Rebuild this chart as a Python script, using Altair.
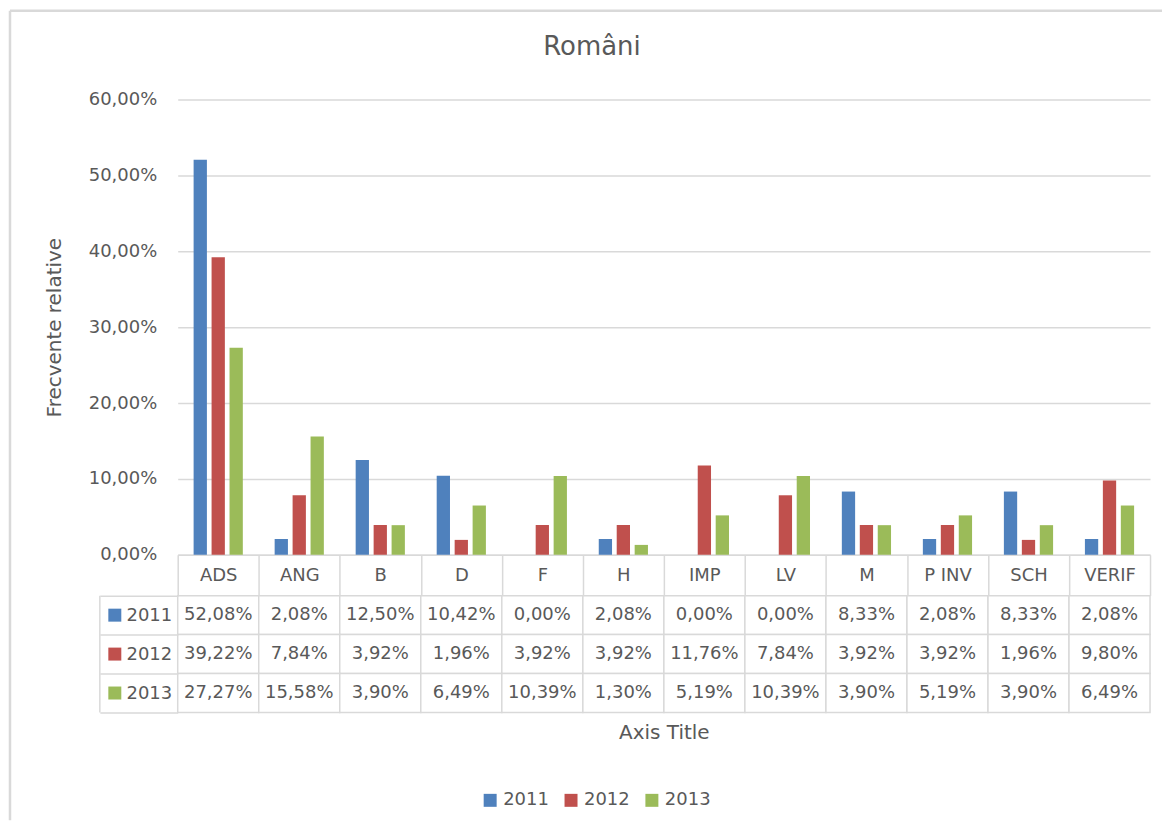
import altair as alt
import pandas as pd

cats = ["ADS", "ANG", "B", "D", "F", "H", "IMP", "LV", "M", "P INV", "SCH", "VERIF"]
years = ["2011", "2012", "2013"]
v2011 = [52.08, 2.08, 12.50, 10.42, 0.00, 2.08, 0.00, 0.00, 8.33, 2.08, 8.33, 2.08]
v2012 = [39.22, 7.84, 3.92, 1.96, 3.92, 3.92, 11.76, 7.84, 3.92, 3.92, 1.96, 9.80]
v2013 = [27.27, 15.58, 3.90, 6.49, 10.39, 1.30, 5.19, 10.39, 3.90, 5.19, 3.90, 6.49]
colors = ["#4F81BD", "#C0504D", "#9BBB59"]

rows = []
for yr, vals in zip(years, [v2011, v2012, v2013]):
    for c, v in zip(cats, vals):
        rows.append({"cat": c, "year": yr, "value": v / 100.0,
                     "label": f"{v:.2f}%".replace(".", ",")})
df = pd.DataFrame(rows)
df_years = pd.DataFrame({"year": years})
df_one = pd.DataFrame({"a": [0]})

FONT = "DejaVu Sans"
TXT = "#595959"
GRID = "#d9d9d9"

color_enc = alt.Color(
    "year:N",
    scale=alt.Scale(domain=years, range=colors),
    legend=alt.Legend(title=None, orient="none", legendX=304, legendY=693,
                      direction="horizontal",
                      symbolType="square", symbolSize=169, symbolStrokeWidth=0,
                      labelFontSize=18, labelColor=TXT, labelFont=FONT,
                      columnPadding=13),
)

x_scale = alt.Scale(domain=cats, paddingInner=0, paddingOuter=0)

bars = alt.Chart(df).mark_bar().encode(
    x=alt.X("cat:N", sort=cats, scale=x_scale,
            axis=alt.Axis(title=None, tickBand="extent", tickSize=41, tickColor=GRID,
                          tickWidth=1.5, domainColor=GRID, domainWidth=1.5, labelAngle=0,
                          labelFontSize=18, labelColor=TXT, labelFont=FONT,
                          labelPadding=-20, labelBaseline="middle")),
    xOffset=alt.XOffset("year:N", sort=years,
                        scale=alt.Scale(domain=years, paddingInner=0.26, paddingOuter=0.886)),
    y=alt.Y("value:Q", scale=alt.Scale(domain=[0, 0.6]),
            axis=alt.Axis(values=[0, 0.1, 0.2, 0.3, 0.4, 0.5, 0.6],
                          labelExpr="replace(format(datum.value, '.2%'), '.', ',')",
                          ticks=False, domain=False, gridColor=GRID, gridWidth=1.5,
                          labelPadding=21, labelFontSize=18, labelColor=TXT, labelFont=FONT,
                          title="Frecvente relative", titlePadding=24, titleFontSize=20,
                          titleFontWeight="normal", titleColor=TXT, titleFont=FONT)),
    color=color_enc,
).properties(width=974, height=456)

base = alt.Chart(df).encode(
    x=alt.X("cat:N", sort=cats, scale=x_scale,
            axis=alt.Axis(labels=False, ticks=False, domain=False, grid=False,
                          title="Axis Title", titlePadding=10, titleFontSize=20,
                          titleFontWeight="normal", titleColor=TXT, titleFont=FONT)),
    y=alt.Y("year:N", sort=years,
            scale=alt.Scale(domain=years, paddingInner=0, paddingOuter=0),
            axis=alt.Axis(title=None, tickBand="extent", tickSize=78, tickColor=GRID,
                          tickWidth=1.5, domain=False, grid=False, labelPadding=-72,
                          labelFontSize=18, labelColor=TXT, labelFont=FONT)),
)
cells = base.mark_rect(fill="white", stroke=GRID, strokeWidth=1.5)
texts = base.mark_text(fontSize=18, color=TXT, font=FONT).encode(text="label:N")
swatch = alt.Chart(df_years).mark_square(size=169, opacity=1).encode(
    x=alt.value(-63),
    y=alt.Y("year:N", sort=years),
    color=color_enc,
)
leftline = alt.Chart(df_one).mark_rule(color=GRID, strokeWidth=1.5).encode(
    x=alt.value(-78), y=alt.value(0), y2=alt.value(117)
)
# outer chart-area frame (left and top edges, as in the reference)
frame_left = alt.Chart(df_one).mark_rule(color=GRID, strokeWidth=2.5).encode(
    x=alt.value(-168), y=alt.value(-586), y2=alt.value(225)
)
frame_top = alt.Chart(df_one).mark_rule(color=GRID, strokeWidth=2.5).encode(
    x=alt.value(-168), x2=alt.value(986), y=alt.value(-586)
)
table = alt.layer(cells, texts, swatch, leftline, frame_left, frame_top).properties(
    width=974, height=117)

chart = alt.vconcat(bars, table, spacing=41, bounds="flush").resolve_scale(
    x="shared", color="shared"
).properties(
    title=alt.TitleParams("Români", fontSize=26, font=FONT, color=TXT,
                          fontWeight="normal", offset=31, anchor="middle",
                          frame="group", dx=-72, dy=82),
    padding={"left": 0, "top": 0, "right": 0, "bottom": 0},
).configure_view(stroke=None)

chart.save("out.html", embed_options={"renderer": "svg", "actions": False})
